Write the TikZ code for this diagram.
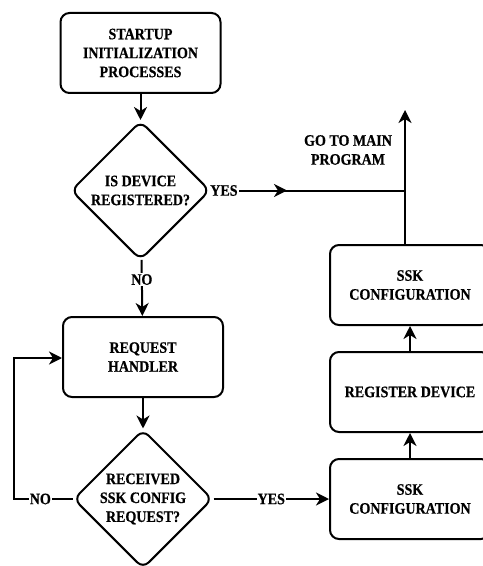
\documentclass[tikz,border=0pt]{standalone}
\usepackage{fontspec}
\setmainfont{Liberation Serif}[FakeStretch=0.88, BoldFeatures={FakeBold=0.5}]
\usetikzlibrary{shapes.geometric,arrows.meta}
\begin{document}
\begin{tikzpicture}[x=1bp,y=-1bp,
  every node/.style={font=\bfseries\fontsize{16}{19}\selectfont, align=center},
  procbox/.style={draw, line width=2bp, rounded corners=9bp, minimum width=160bp, minimum height=80bp, inner sep=2bp},
  decision/.style={draw, line width=2bp, diamond, rounded corners=8bp, minimum width=139bp, minimum height=139bp, inner sep=0pt, aspect=1},
  conn/.style={line width=2bp, -{Stealth[length=13bp,width=13bp,inset=4bp]}},
  plain/.style={line width=2bp},
  lbl/.style={fill=white, inner sep=1bp}
]
\useasboundingbox (0,0) rectangle (483,566);
\node[procbox] (start) at (140.5,53) {STARTUP\\INITIALIZATION\\PROCESSES};
\node[decision] (dev) at (140.5,190.5) {IS DEVICE\\REGISTERED?};
\node[procbox] (req) at (143,357) {REQUEST\\HANDLER};
\node[decision] (ssk) at (143,499) {RECEIVED\\SSK CONFIG\\REQUEST?};
\node[procbox] (cfg1) at (410,499) {SSK\\CONFIGURATION};
\node[procbox] (reg) at (410,392) {REGISTER DEVICE};
\node[procbox] (cfg2) at (410,285) {SSK\\CONFIGURATION};
\coordinate (top) at (405,110);
\coordinate (join) at (405,190.5);
\coordinate (loopb) at (14,499);
\coordinate (loopt) at (14,358);
\node (main) at (348,150) {GO TO MAIN\\PROGRAM};

\draw[conn] (start) -- (dev);
\draw[conn] (dev) -- node[lbl, pos=0.35] (nolbl) {NO} (req);
\draw[conn] (req) -- (ssk);
\draw[conn] (cfg1) -- (reg);
\draw[conn] (reg) -- (cfg2);
\draw[conn] (cfg2.north -| join) -- (top);
\draw[plain] (dev.east) -- (join);
\draw[conn] (dev.east) -- node[lbl, pos=0.17] (yeslbl) {YES} (287,190.5);
\draw[conn] (ssk.east) -- node[lbl, pos=0.5] (yes2) {YES} (cfg1.west);
\draw[conn] (ssk.west) -- node[lbl, pos=0.55] (no2) {NO} (loopb) -- (loopt) -- (req.west |- loopt);
\end{tikzpicture}
\end{document}
